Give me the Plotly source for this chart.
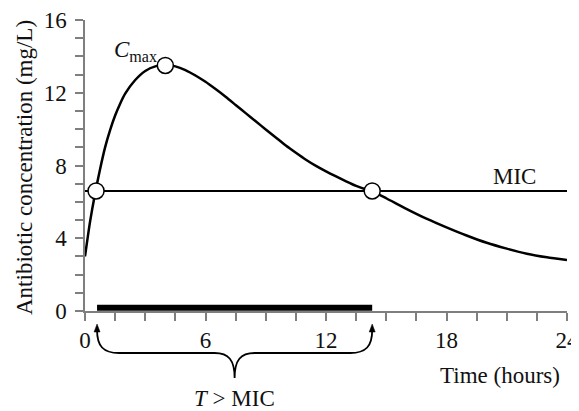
import plotly.graph_objects as go

# Data
time_h = [0, 0.25, 0.5, 0.75, 1.0, 1.25, 1.5, 1.75, 2.0, 2.5, 3.0, 3.5, 4.0, 4.5, 5.0,
          5.5, 6.0, 6.5, 7.0, 7.5, 8.0, 8.5, 9.0, 9.5, 10.0, 10.5, 11.0, 11.5, 12.0,
          12.5, 13.0, 13.5, 14.0, 14.3, 15.0, 16.0, 17.0, 18.0, 19.0, 20.0, 21.0,
          22.0, 23.0, 24.0]
conc = [3.0, 4.9, 6.45, 7.8, 9.0, 9.95, 10.75, 11.4, 11.95, 12.7, 13.2, 13.45, 13.52,
        13.45, 13.25, 12.95, 12.6, 12.2, 11.78, 11.33, 10.88, 10.43, 9.98, 9.54, 9.1,
        8.7, 8.32, 7.98, 7.68, 7.4, 7.13, 6.88, 6.68, 6.58, 6.2, 5.62, 5.08, 4.6, 4.15,
        3.75, 3.43, 3.15, 2.95, 2.8]
mic_value = 6.6
mic_time = [0, 24]
key_t = [0.55, 4.0, 14.3]
key_c = [6.6, 13.5, 6.6]
t_above_start = 0.6
t_above_end = 14.3
x_ticks = [0, 6, 12, 18, 24]
y_ticks = [0, 4, 8, 12, 16]

FONT = "Liberation Serif"
AXC = "#7f7f7f"
TXT = "#111111"

fig = go.Figure()
fig.add_trace(go.Scatter(x=time_h, y=conc, mode="lines",
                         line=dict(color="black", width=2.5, shape="spline", smoothing=0.6),
                         hoverinfo="skip", showlegend=False))
fig.add_trace(go.Scatter(x=mic_time, y=[mic_value, mic_value], mode="lines",
                         line=dict(color="black", width=2), showlegend=False))
fig.add_trace(go.Scatter(x=key_t, y=key_c, mode="markers",
                         marker=dict(size=16, color="white", line=dict(color="black", width=1.5)),
                         cliponaxis=False, showlegend=False))

# thick T>MIC bar
fig.add_shape(type="rect", xref="x", yref="y", x0=t_above_start, x1=t_above_end,
              y0=0.02, y1=0.34, fillcolor="black", line=dict(width=0), layer="above")

# brace below the axis (x in hours, y in paper units)
def py(p):
    return (311 - p) / 291.0

hpp = 24 / 482.0  # hours per pixel
ts, te = t_above_start, t_above_end
tm = (ts + te) / 2
path = (
    f"M {ts:.3f},{py(330):.4f} "
    f"C {ts:.3f},{py(346):.4f} {ts + 6*hpp:.3f},{py(353):.4f} {ts + 22*hpp:.3f},{py(353):.4f} "
    f"L {tm - 20*hpp:.3f},{py(353):.4f} "
    f"C {tm - 6*hpp:.3f},{py(353):.4f} {tm:.3f},{py(360):.4f} {tm:.3f},{py(378):.4f} "
    f"C {tm:.3f},{py(360):.4f} {tm + 6*hpp:.3f},{py(353):.4f} {tm + 20*hpp:.3f},{py(353):.4f} "
    f"L {te - 22*hpp:.3f},{py(353):.4f} "
    f"C {te - 6*hpp:.3f},{py(353):.4f} {te:.3f},{py(346):.4f} {te:.3f},{py(330):.4f}"
)
fig.add_shape(type="path", xref="x", yref="paper", path=path,
              line=dict(color="black", width=1.8))
for tx in (ts, te):
    tri = (f"M {tx:.3f},{py(324):.4f} L {tx - 3*hpp:.3f},{py(332):.4f} "
           f"L {tx + 3*hpp:.3f},{py(332):.4f} Z")
    fig.add_shape(type="path", xref="x", yref="paper", path=tri,
                  fillcolor="black", line=dict(color="black", width=0.5))

fig.add_annotation(x=tm, xref="x", y=py(398), yref="paper", text="<i>T</i> > MIC",
                   showarrow=False, font=dict(family=FONT, size=23, color=TXT),
                   yanchor="middle")
fig.add_annotation(x=(562 - 85) / 482, xref="paper", y=py(375), yref="paper",
                   text="Time (hours)", showarrow=False, xanchor="right", yanchor="middle",
                   font=dict(family=FONT, size=23, color=TXT))
fig.add_annotation(x=(24 - 85) / 482, xref="paper", y=py(168), yref="paper",
                   text="Antibiotic concentration (mg/L)", textangle=-90, showarrow=False,
                   xanchor="center", yanchor="middle",
                   font=dict(family=FONT, size=23, color=TXT))
fig.add_annotation(x=21.4, y=7.4, text="MIC", showarrow=False, yanchor="middle",
                   font=dict(family=FONT, size=23, color=TXT))
fig.add_annotation(x=2.5, y=14.3, text="<i>C</i><sub>max</sub>", showarrow=False,
                   yanchor="middle", font=dict(family=FONT, size=23, color=TXT))

# page has an 8px body margin, so the figure is 8px smaller and shifted
fig.update_layout(
    width=571, height=403,
    margin=dict(l=77, r=12, t=12, b=100, autoexpand=False),
    plot_bgcolor="white", paper_bgcolor="white",
    font=dict(family=FONT, size=23, color=TXT),
)
fig.update_xaxes(range=[0, 24], tickvals=x_ticks, ticks="outside", ticklen=8,
                 tickcolor=AXC, tickwidth=1.5, showline=True, linecolor=AXC, linewidth=1.5,
                 showgrid=False, zeroline=False, automargin=False,
                 minor=dict(dtick=1.5, ticks="outside", ticklen=8, tickcolor=AXC, tickwidth=1.5,
                            showgrid=False),
                 tickfont=dict(family=FONT, size=23, color=TXT))
fig.update_yaxes(range=[0, 16], tickvals=y_ticks, ticks="outside", ticklen=8,
                 tickcolor=AXC, tickwidth=1.5, showline=True, linecolor=AXC, linewidth=1.5,
                 showgrid=False, zeroline=False, ticklabelstandoff=4, automargin=False,
                 minor=dict(dtick=1, ticks="outside", ticklen=8, tickcolor=AXC, tickwidth=1.5,
                            showgrid=False),
                 tickfont=dict(family=FONT, size=23, color=TXT))

fig.write_html("out.html")
